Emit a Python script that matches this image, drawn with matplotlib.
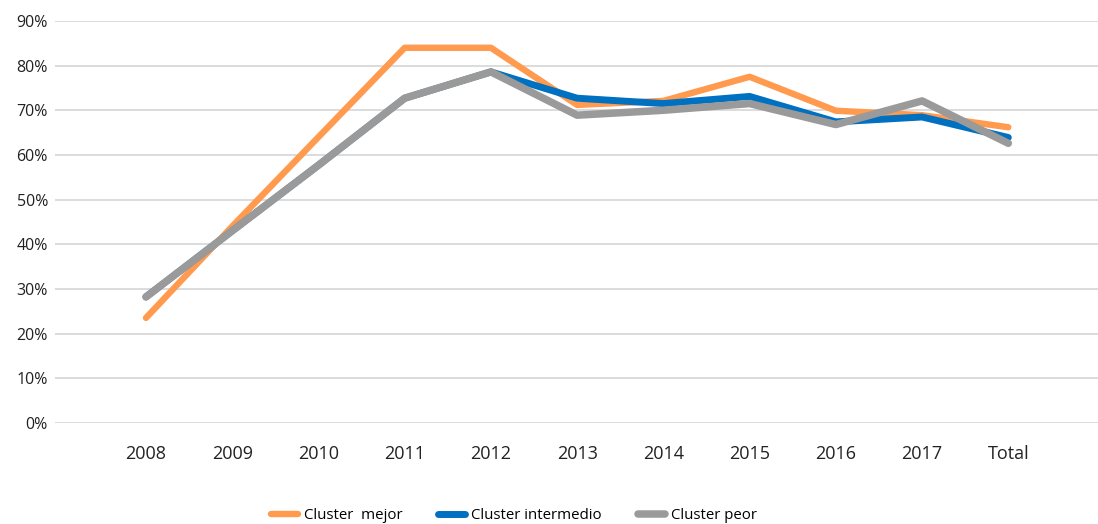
import matplotlib.pyplot as plt
from matplotlib.ticker import PercentFormatter

plt.rcParams["font.family"] = ["Open Sans", "DejaVu Sans"]

categorias = ["2008", "2009", "2010", "2011", "2012", "2013", "2014", "2015", "2016", "2017", "Total"]
mejor = [23.5, 44.0, 64.0, 84.0, 84.0, 71.2, 72.1, 77.5, 69.9, 68.9, 66.2]
intermedio = [28.2, 43.0, 57.7, 72.7, 78.6, 72.7, 71.5, 73.1, 67.4, 68.5, 63.9]
peor = [28.2, 43.0, 57.7, 72.7, 78.6, 68.9, 70.0, 71.5, 66.8, 72.1, 62.6]

fig = plt.figure(figsize=(10.98, 5.24), dpi=100)
ax = fig.add_axes([0.050, 0.193, 0.950, 0.767])

x = range(len(categorias))
estilo = dict(solid_capstyle="round", solid_joinstyle="round")
ax.plot(x, mejor, color="#FF9A4F", lw=4.6, label="Cluster  mejor", **estilo)
ax.plot(x, intermedio, color="#0070C0", lw=5.0, label="Cluster intermedio", **estilo)
ax.plot(x, peor, color="#9A9A9A", lw=5.4, label="Cluster peor", **estilo)

ax.set_ylim(0, 90)
ax.set_yticks(range(0, 91, 10))
ax.yaxis.set_major_formatter(PercentFormatter(decimals=0))
ax.set_xlim(-1.056, 11.04)
ax.set_xticks(list(x))
ax.set_xticklabels(categorias)
ax.grid(axis="y", color="#D9D9D9", lw=1.3)
ax.set_axisbelow(True)
for s in ax.spines.values():
    s.set_visible(False)
ax.tick_params(axis="y", length=0, pad=5, labelsize=11.5, labelcolor="#222222")
ax.tick_params(axis="x", length=0, pad=16, labelsize=13, labelcolor="#222222")

fig.legend(loc="center", bbox_to_anchor=(0.468, 0.016), ncol=3, frameon=False,
           fontsize=10.8, handlelength=1.8, handletextpad=0.4, columnspacing=2.4)

fig.savefig("out.png", dpi=100)
